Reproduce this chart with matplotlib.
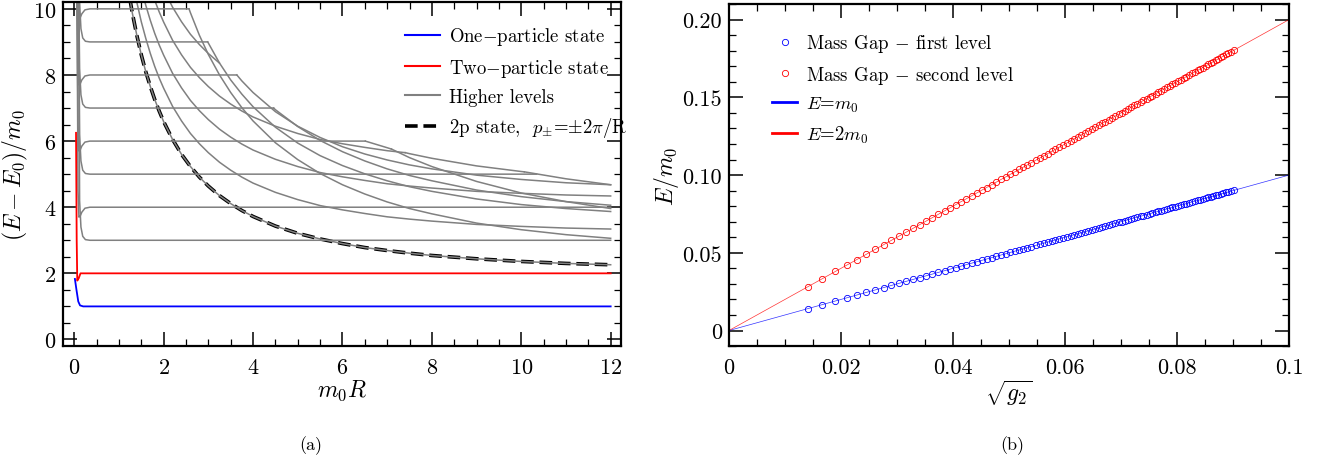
import matplotlib
matplotlib.use('Agg')
import matplotlib.pyplot as plt
from matplotlib.ticker import MultipleLocator, FixedLocator, FixedFormatter

plt.rcParams['font.family'] = 'serif'
plt.rcParams['font.serif'] = ['cmr10']
plt.rcParams['mathtext.fontset'] = 'cm'
plt.rcParams['axes.formatter.use_mathtext'] = True
plt.rcParams['axes.unicode_minus'] = False

# ------------------ DATA (a): levels vs m0R ------------------

one_x = [0.015, 0.05, 0.09, 0.13, 0.2, 12.0]
one_y = [1.83, 1.5, 1.15, 1.03, 1.0, 1.0]
two_x = [0.04, 0.055, 0.068, 0.1, 0.14, 12.0]
two_y = [6.25, 3.0, 1.78, 1.85, 2.0, 2.0]

# flat levels (n particles at rest), with the small-R transient
spike_x_odd = [0.1, 0.12, 0.15, 0.19, 0.25, 0.35]
spike_x_even = [0.06, 0.085, 0.105, 0.13, 0.17, 0.24, 0.35]
lev3_y = [10.6, 4.2, 3.4, 3.12, 3.02, 3.0, 3.0]
lev4_y = [10.6, 4.5, 3.7, 3.72, 3.85, 3.97, 4.0, 4.0]
lev5_y = [10.6, 6.2, 5.4, 5.12, 5.02, 5.0, 5.0]
lev6_y = [10.6, 6.5, 5.7, 5.72, 5.85, 5.97, 6.0, 6.0]
lev7_y = [10.6, 8.2, 7.4, 7.12, 7.02, 7.0, 7.0]
lev8_y = [10.6, 8.5, 7.7, 7.72, 7.85, 7.97, 8.0, 8.0]
lev9_y = [10.6, 10.2, 9.4, 9.12, 9.02, 9.0, 9.0]
lev10_y = [10.6, 10.5, 9.7, 9.72, 9.85, 9.97, 10.0, 10.0]
lev_end = [12.0, 12.0, 10.344, 6.51, 4.46, 3.636, 2.984, 2.566]   # levels 3..10

# moving-particle levels
c0_x = [1.22, 1.3, 1.4, 1.5, 1.6, 1.7, 1.8, 1.9, 2.0, 2.2, 2.4, 2.6, 2.8, 3.0, 3.25, 3.5,
        3.75, 4.0, 4.5, 5.0, 5.5, 6.0, 6.5, 7.0, 7.5, 8.0, 9.0, 10.0, 11.0, 12.0]
c0_y = [10.49, 9.87, 9.20, 8.61, 8.10, 7.66, 7.26, 6.91, 6.59, 6.05, 5.60, 5.23, 4.91, 4.64, 4.35, 4.11,
        3.90, 3.72, 3.43, 3.21, 3.04, 2.90, 2.78, 2.69, 2.61, 2.54, 2.44, 2.36, 2.30, 2.26]
c1_x = [1.354, 1.4, 1.5, 1.6, 1.7, 1.8, 1.9, 2.0, 2.2, 2.4, 2.6, 2.8, 3.0, 3.25, 3.5, 3.75,
        4.0, 4.5, 5.0, 5.5, 6.0, 6.5, 7.0, 7.5, 8.0, 9.0, 10.0, 11.0, 12.0]
c1_y = [10.49, 10.20, 9.61, 9.11, 8.66, 8.26, 7.91, 7.60, 7.05, 6.61, 6.23, 5.92, 5.65, 5.36, 5.12, 4.91,
        4.73, 4.45, 4.23, 4.05, 3.92, 3.81, 3.71, 3.64, 3.58, 3.48, 3.42, 3.37, 3.34]
c2_x = [1.522, 1.6, 1.7, 1.8, 1.9, 2.0, 2.2, 2.4, 2.6, 2.8, 3.0, 3.25, 3.5, 3.75, 4.0,
        4.5, 5.0, 5.5, 6.0, 6.5, 7.0, 7.5, 8.0, 9.0, 10.0, 11.0, 12.0]
c2_y = [10.50, 10.11, 9.66, 9.26, 8.91, 8.60, 8.05, 7.61, 7.23, 6.92, 6.65, 6.36, 6.12, 5.91, 5.73,
        5.45, 5.23, 5.05, 4.92, 4.81, 4.71, 4.64, 4.58, 4.48, 4.42, 4.37, 4.34]
c3_x = [1.74, 1.8, 1.9, 2.0, 2.2, 2.4, 2.6, 2.8, 3.0, 3.25, 3.5, 3.75, 4.0, 4.5, 5.0, 5.5,
        6.0, 6.5, 7.0, 7.406]
c3_y = [10.50, 10.26, 9.91, 9.60, 9.05, 8.61, 8.23, 7.92, 7.65, 7.36, 7.12, 6.91, 6.73, 6.45, 6.23, 6.05,
        5.92, 5.81, 5.71, 5.65]
c4_x = [2.034, 2.2, 2.4, 2.6, 2.8, 3.0, 3.248]
c4_y = [10.50, 10.05, 9.61, 9.23, 8.92, 8.65, 8.36]
c5_x = [2.568, 2.6, 2.8, 3.0, 3.25, 3.5, 3.75, 4.0, 4.5, 5.0, 5.5, 6.0, 6.5, 7.0, 7.5, 8.0,
        9.0, 10.0, 11.0, 12.0]
c5_y = [10.00, 9.88, 9.20, 8.62, 8.00, 7.47, 7.01, 6.61, 5.95, 5.44, 5.02, 4.68, 4.40, 4.16, 3.96, 3.80,
        3.52, 3.32, 3.17, 3.06]
c6_x = [4.462, 4.5, 5.0, 5.5, 6.0, 6.5, 7.0, 7.5, 8.0, 9.0, 10.0, 11.0, 12.0]
c6_y = [7.00, 6.95, 6.44, 6.02, 5.68, 5.40, 5.16, 4.96, 4.80, 4.52, 4.32, 4.17, 4.06]
c7_x = [7.096, 7.5, 8.0, 9.0, 10.0, 11.0, 12.0]
c7_y = [5.76, 5.50, 5.23, 4.78, 4.43, 4.17, 3.96]
c8_x = [2.986, 3.25, 3.5, 3.75, 4.0, 4.5, 5.0, 5.5, 6.0, 6.5, 7.0, 7.5, 8.0, 9.0, 10.0, 11.0, 12.0]
c8_y = [9.00, 8.36, 7.85, 7.42, 7.04, 6.42, 5.94, 5.56, 5.26, 5.01, 4.80, 4.62, 4.48, 4.25, 4.08, 3.96, 3.87]
c9_x = [6.512, 7.0, 7.094]
c9_y = [6.00, 5.80, 5.76]
c10_x = [7.408, 7.5, 8.0, 9.0, 10.0, 10.068]
c10_y = [5.65, 5.62, 5.48, 5.25, 5.08, 5.07]
c11_x = [10.07, 11.0, 12.0]
c11_y = [5.07, 4.86, 4.68]
c12_x = [3.638, 3.75, 4.0, 4.5, 5.0, 5.5, 6.0, 6.5, 7.0, 7.5, 8.0, 9.0, 10.0, 11.0, 12.0]
c12_y = [8.00, 7.82, 7.47, 6.89, 6.45, 6.11, 5.83, 5.61, 5.43, 5.28, 5.16, 4.97, 4.84, 4.74, 4.68]

# ------------------ DATA (b): mass gap vs sqrt(g2) ------------------

sqrt_g2 = [0.0141, 0.0167, 0.0190, 0.0210, 0.0228, 0.0245, 0.0261, 0.0276, 0.0290, 0.0303,
           0.0316, 0.0329, 0.0341, 0.0352, 0.0363, 0.0374, 0.0385, 0.0395, 0.0405, 0.0415,
           0.0424, 0.0434, 0.0443, 0.0452, 0.0460, 0.0469, 0.0477, 0.0486, 0.0494, 0.0502,
           0.0510, 0.0518, 0.0525, 0.0533, 0.0540, 0.0548, 0.0555, 0.0562, 0.0569, 0.0576,
           0.0583, 0.0590, 0.0597, 0.0603, 0.0610, 0.0616, 0.0623, 0.0629, 0.0636, 0.0642,
           0.0648, 0.0654, 0.0660, 0.0666, 0.0672, 0.0678, 0.0684, 0.0690, 0.0696, 0.0701,
           0.0707, 0.0713, 0.0718, 0.0724, 0.0729, 0.0735, 0.0740, 0.0746, 0.0751, 0.0756,
           0.0762, 0.0767, 0.0772, 0.0777, 0.0782, 0.0787, 0.0792, 0.0797, 0.0802, 0.0807,
           0.0812, 0.0817, 0.0822, 0.0827, 0.0832, 0.0837, 0.0841, 0.0846, 0.0851, 0.0856,
           0.0860, 0.0865, 0.0869, 0.0874, 0.0879, 0.0883, 0.0888, 0.0892, 0.0897, 0.0901]
gap_first = [0.0141, 0.0167, 0.0190, 0.0210, 0.0228, 0.0245, 0.0261, 0.0276, 0.0290, 0.0303,
             0.0316, 0.0329, 0.0341, 0.0352, 0.0363, 0.0374, 0.0385, 0.0395, 0.0405, 0.0415,
             0.0424, 0.0434, 0.0443, 0.0452, 0.0460, 0.0469, 0.0477, 0.0486, 0.0494, 0.0502,
             0.0510, 0.0518, 0.0525, 0.0533, 0.0540, 0.0548, 0.0555, 0.0562, 0.0569, 0.0576,
             0.0583, 0.0590, 0.0597, 0.0603, 0.0610, 0.0616, 0.0623, 0.0629, 0.0636, 0.0642,
             0.0648, 0.0654, 0.0660, 0.0666, 0.0672, 0.0678, 0.0684, 0.0690, 0.0696, 0.0701,
             0.0707, 0.0713, 0.0718, 0.0724, 0.0729, 0.0735, 0.0740, 0.0746, 0.0751, 0.0756,
             0.0762, 0.0767, 0.0772, 0.0777, 0.0782, 0.0787, 0.0792, 0.0797, 0.0802, 0.0807,
             0.0812, 0.0817, 0.0822, 0.0827, 0.0832, 0.0837, 0.0841, 0.0846, 0.0851, 0.0856,
             0.0860, 0.0865, 0.0869, 0.0874, 0.0879, 0.0883, 0.0888, 0.0892, 0.0897, 0.0901]
gap_second = [0.0282, 0.0334, 0.0380, 0.0420, 0.0456, 0.0490, 0.0522, 0.0552, 0.0580, 0.0606,
              0.0632, 0.0658, 0.0682, 0.0704, 0.0726, 0.0748, 0.0770, 0.0790, 0.0810, 0.0830,
              0.0848, 0.0868, 0.0886, 0.0904, 0.0920, 0.0938, 0.0954, 0.0972, 0.0988, 0.1004,
              0.1020, 0.1036, 0.1050, 0.1066, 0.1080, 0.1096, 0.1110, 0.1124, 0.1138, 0.1152,
              0.1166, 0.1180, 0.1194, 0.1206, 0.1220, 0.1232, 0.1246, 0.1258, 0.1272, 0.1284,
              0.1296, 0.1308, 0.1320, 0.1332, 0.1344, 0.1356, 0.1368, 0.1380, 0.1392, 0.1402,
              0.1414, 0.1426, 0.1436, 0.1448, 0.1458, 0.1470, 0.1480, 0.1492, 0.1502, 0.1512,
              0.1524, 0.1534, 0.1544, 0.1554, 0.1564, 0.1574, 0.1584, 0.1594, 0.1604, 0.1614,
              0.1624, 0.1634, 0.1644, 0.1654, 0.1664, 0.1674, 0.1682, 0.1692, 0.1702, 0.1712,
              0.1720, 0.1730, 0.1738, 0.1748, 0.1758, 0.1766, 0.1776, 0.1784, 0.1794, 0.1802]
line_x = [0.0, 0.1]
line_one = [0.0, 0.1]
line_two = [0.0, 0.2]

# ------------------ FIGURE ------------------

GRAY = '#808080'
LEG_FS = 13.5
fig = plt.figure(figsize=(13.22, 4.64), dpi=100)
ax1 = fig.add_axes([0.0477, 0.252, 0.422, 0.741])
ax2 = fig.add_axes([0.5514, 0.252, 0.4236, 0.737])

# (a)
h_dash, = ax1.plot(c0_x, c0_y, color='black', lw=2.6, ls=(0, (3.5, 1.6)))
lev_ys = [lev3_y, lev4_y, lev5_y, lev6_y, lev7_y, lev8_y, lev9_y, lev10_y]
for n, ys, end in zip(range(3, 11), lev_ys, lev_end):
    xs = (spike_x_even if n % 2 == 0 else spike_x_odd) + [end]
    h_gray, = ax1.plot(xs, ys, color=GRAY, lw=1.1)
for xs, ys in [(c0_x, c0_y), (c1_x, c1_y), (c2_x, c2_y), (c3_x, c3_y), (c4_x, c4_y),
               (c5_x, c5_y), (c6_x, c6_y), (c7_x, c7_y), (c8_x, c8_y), (c9_x, c9_y),
               (c10_x, c10_y), (c11_x, c11_y), (c12_x, c12_y)]:
    ax1.plot(xs, ys, color=GRAY, lw=1.1)
h_one, = ax1.plot(one_x, one_y, color='blue', lw=1.3)
h_two, = ax1.plot(two_x, two_y, color='red', lw=1.3)

ax1.set_xlim(-0.25, 12.23)
ax1.set_ylim(-0.2, 10.2)
ax1.xaxis.set_major_locator(MultipleLocator(2))
ax1.xaxis.set_minor_locator(MultipleLocator(0.5))
ax1.yaxis.set_major_locator(MultipleLocator(2))
ax1.yaxis.set_minor_locator(MultipleLocator(0.5))
ax1.set_xlabel(r'$m_0R$', fontsize=17, labelpad=0)
ax1.set_ylabel(r'$(E-E_0)/m_0$', fontsize=17, labelpad=2)
leg1 = ax1.legend([h_one, h_two, h_gray, h_dash],
                  [r'One$-$particle state', r'Two$-$particle state', 'Higher levels',
                   r'2p state,  $p_{\pm}$=$\pm2\pi$/R'],
                  frameon=False, fontsize=LEG_FS, loc='upper left', bbox_to_anchor=(0.583, 0.982),
                  labelspacing=0.5, handlelength=1.87, handletextpad=0.45)
for ln in leg1.get_lines()[:3]:
    ln.set_linewidth(1.5)

# (b)
h_l1, = ax2.plot(line_x, line_one, color='blue', lw=0.5, alpha=0.8)
h_l2, = ax2.plot(line_x, line_two, color='red', lw=0.5, alpha=0.8)
h_m1, = ax2.plot(sqrt_g2, gap_first, 'o', mfc='none', mec='blue', ms=4.5, mew=0.6)
h_m2, = ax2.plot(sqrt_g2, gap_second, 'o', mfc='none', mec='red', ms=4.5, mew=0.6)
ax2.set_xlim(0, 0.1)
ax2.set_ylim(-0.01, 0.21)
ax2.xaxis.set_major_locator(FixedLocator([0, 0.02, 0.04, 0.06, 0.08, 0.1]))
ax2.xaxis.set_major_formatter(FixedFormatter(['0', '0.02', '0.04', '0.06', '0.08', '0.1']))
ax2.xaxis.set_minor_locator(MultipleLocator(0.005))
ax2.yaxis.set_major_locator(FixedLocator([0, 0.05, 0.1, 0.15, 0.2]))
ax2.yaxis.set_major_formatter(FixedFormatter(['0', '0.05', '0.10', '0.15', '0.20']))
ax2.yaxis.set_minor_locator(MultipleLocator(0.01))
ax2.set_xlabel(r'$\sqrt{g_2}$', fontsize=17, labelpad=0)
ax2.set_ylabel(r'$E/m_0$', fontsize=17, labelpad=1)
leg2 = ax2.legend([h_m1, h_m2, h_l1, h_l2],
                  [r'Mass Gap $-$ first level', r'Mass Gap $-$ second level',
                   r'$E$=$m_0$', r'$E$=$2m_0$'],
                  frameon=False, fontsize=LEG_FS, loc='upper left', bbox_to_anchor=(0.047, 0.967),
                  labelspacing=0.5, handlelength=1.33, handletextpad=0.5, numpoints=1)
for ln in leg2.get_lines()[2:]:
    ln.set_linewidth(2.0)
    ln.set_alpha(1)

for ax in (ax1, ax2):
    ax.tick_params(which='both', direction='in', top=True, right=True, labelsize=16)
    ax.tick_params(axis='x', pad=8.5)
    ax.tick_params(axis='y', pad=5)
    ax.tick_params(which='major', length=10, width=1.1)
    ax.tick_params(which='minor', length=5, width=0.9)
    for sp in ax.spines.values():
        sp.set_linewidth(1.6)

fig.text(311 / 1322, 1 - 446 / 464, '(a)', fontsize=13, ha='center', va='center')
fig.text(1012 / 1322, 1 - 446 / 464, '(b)', fontsize=13, ha='center', va='center')

fig.savefig('out.png', dpi=100)
